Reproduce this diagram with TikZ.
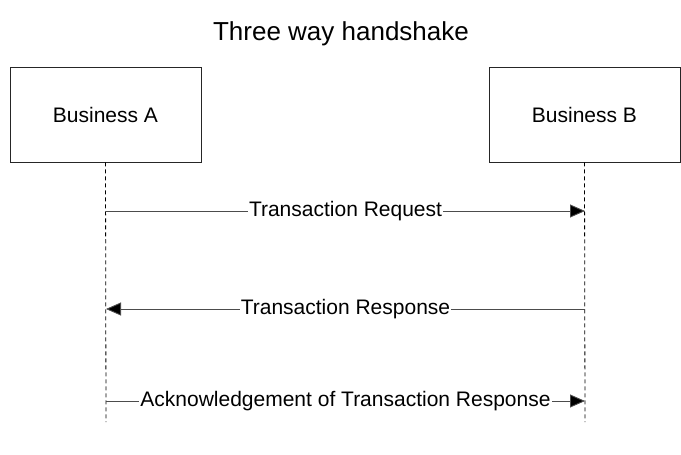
\documentclass[tikz,border=0pt]{standalone}
\usepackage{fontspec}
\setmainfont{Liberation Sans}
\usetikzlibrary{arrows.meta}
\begin{document}
\begin{tikzpicture}[x=1pt,y=-1pt,
  party/.style={draw=black!85, line width=0.8pt, minimum width=191pt, minimum height=95pt,
    inner sep=0pt, font=\fontsize{21}{25}\selectfont},
  lifeline/.style={draw=black, line width=0.8pt, dash pattern=on 4pt off 3pt},
  msg/.style={draw=black!70, line width=0.9pt, -{Triangle[length=15pt,width=13pt,fill=black]}},
  msglabel/.style={fill=white, inner sep=1pt, font=\fontsize{21}{25}\selectfont}]
  \useasboundingbox (0,0) rectangle (681,455);

  \node[font=\fontsize{26}{30}\selectfont] (title) at (341,34) {Three way handshake};

  \node[party] (A) at (105.5,114.5) {Business A};
  \node[party] (B) at (584.5,114.5) {Business B};

  % lifelines
  \coordinate (Aend) at (106,422);
  \coordinate (Bend) at (585,422);
  \draw[lifeline] (A.south) -- (Aend);
  \draw[lifeline] (B.south) -- (Bend);

  % message anchors on the lifelines
  \coordinate (A1) at (106,211);  \coordinate (B1) at (585,211);
  \coordinate (A2) at (106,309);  \coordinate (B2) at (585,309);
  \coordinate (A3) at (106,401);  \coordinate (B3) at (585,401);

  \draw[msg] (A1) -- node[msglabel] (m1) {Transaction Request} (B1);
  \draw[msg] (B2) -- node[msglabel] (m2) {Transaction Response} (A2);
  \draw[msg] (A3) -- node[msglabel] (m3) {Acknowledgement of Transaction Response} (B3);
\end{tikzpicture}
\end{document}
